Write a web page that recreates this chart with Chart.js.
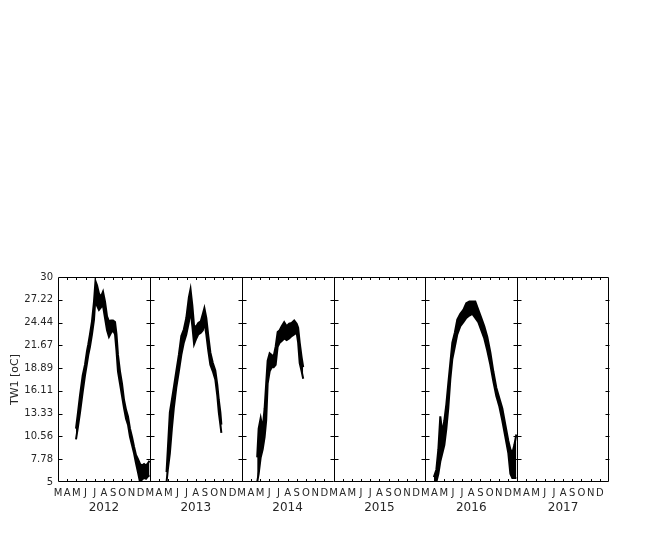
<!DOCTYPE html>
<html>
<head>
<meta charset="utf-8">
<script src="https://cdn.jsdelivr.net/npm/chart.js@4/dist/chart.umd.min.js"></script>
<style>
  html, body { margin: 0; padding: 0; background: #fff; }
  canvas { display: block; }
</style>
</head>
<body>
<canvas id="grafico" width="652" height="540"></canvas>
<script>
// ==========================
// DADOS
// ==========================
const anos = ["2012", "2013", "2014", "2015", "2016", "2017"];
const meses = ["M", "A", "M", "J", "J", "A", "S", "O", "N", "D"];
const yTicks = [5, 7.78, 10.56, 13.33, 16.11, 18.89, 21.67, 24.44, 27.22, 30];

// tempo em meses desde 1 de marco de cada ano
const t2012 = [1.96, 2.18, 2.40, 2.69, 2.94, 3.16, 3.30, 3.48, 3.70, 3.92, 4.08, 4.25, 4.46, 4.68, 4.90, 5.12, 5.34, 5.55, 5.77, 5.99, 6.21, 6.37, 6.53, 6.75, 6.97, 7.19, 7.41, 7.62, 7.84, 8.06, 8.28, 8.49, 8.71, 8.93, 9.15, 9.37, 9.58, 9.80, 9.96];
const hi2012 = [11.5, 13.5, 15.6, 18.0, 19.3, 21.0, 21.8, 23.0, 24.6, 27.0, 29.5, 29.0, 28.0, 27.6, 28.2, 27.0, 25.2, 24.6, 24.7, 24.7, 24.5, 23.0, 20.5, 18.5, 17.0, 15.0, 13.8, 13.0, 11.5, 10.5, 9.3, 8.3, 7.8, 7.2, 7.0, 7.2, 7.0, 7.3, 7.6];
const lo2012 = [10.2, 11.8, 13.5, 16.0, 18.0, 19.5, 20.5, 21.5, 23.0, 24.8, 27.5, 26.5, 26.0, 26.3, 26.5, 25.0, 23.5, 22.7, 23.2, 23.5, 23.0, 21.0, 18.5, 17.0, 15.5, 14.0, 12.7, 12.0, 10.5, 9.5, 8.5, 7.3, 6.2, 5.0, 5.3, 5.5, 5.4, 5.7, 5.8];

const t2013 = [1.82, 1.96, 2.18, 2.40, 2.61, 2.88, 3.16, 3.43, 3.70, 3.97, 4.25, 4.43, 4.63, 4.82, 5.06, 5.28, 5.55, 5.77, 5.94, 6.15, 6.37, 6.59, 6.86, 7.13, 7.35, 7.51, 7.68, 7.79];
const hi2013 = [6.2, 9.0, 13.5, 15.0, 16.5, 18.5, 20.5, 22.8, 23.6, 25.0, 27.5, 28.5, 26.5, 24.0, 24.0, 24.4, 24.6, 25.5, 26.2, 25.0, 22.8, 20.8, 19.5, 18.6, 16.8, 15.0, 13.5, 12.0];
const lo2013 = [5.0, 6.5, 8.5, 11.5, 14.0, 16.5, 18.5, 20.5, 22.0, 23.0, 24.5, 26.0, 24.0, 21.8, 22.5, 23.0, 23.2, 23.5, 24.5, 23.0, 21.0, 19.3, 18.5, 17.5, 15.5, 13.5, 12.0, 11.0];

const t2014 = [1.69, 1.85, 2.07, 2.29, 2.50, 2.67, 2.83, 3.05, 3.27, 3.48, 3.70, 3.92, 4.14, 4.36, 4.63, 4.90, 5.17, 5.44, 5.72, 5.99, 6.15, 6.32, 6.53, 6.70];
const hi2014 = [8.0, 11.5, 12.8, 11.5, 14.0, 17.0, 19.8, 20.7, 20.5, 20.3, 21.5, 23.3, 23.5, 24.0, 24.5, 24.0, 24.3, 24.4, 24.7, 24.3, 23.8, 22.0, 20.2, 19.0];
const lo2014 = [5.0, 6.0, 8.0, 9.0, 10.5, 12.5, 17.0, 18.5, 19.0, 19.0, 19.3, 21.5, 22.0, 22.2, 22.5, 22.3, 22.5, 22.8, 23.0, 23.2, 22.0, 19.5, 18.5, 17.6];

const t2016 = [0.93, 1.20, 1.42, 1.63, 1.85, 2.07, 2.29, 2.50, 2.72, 2.94, 3.21, 3.48, 3.81, 4.14, 4.46, 4.79, 5.12, 5.44, 5.77, 6.10, 6.42, 6.75, 7.08, 7.40, 7.73, 8.06, 8.38, 8.71, 9.04, 9.26, 9.47, 9.69, 9.91];
const hi2016 = [5.6, 6.5, 9.0, 13.0, 11.0, 12.5, 14.5, 17.0, 19.5, 22.0, 23.2, 24.8, 25.5, 26.0, 26.8, 27.0, 27.0, 27.0, 26.0, 25.0, 24.0, 22.7, 20.8, 18.5, 16.5, 15.2, 14.0, 12.0, 10.0, 9.0, 8.5, 9.5, 10.8];
const lo2016 = [5.0, 5.0, 6.0, 7.5, 8.5, 9.5, 11.5, 14.0, 17.5, 20.0, 21.5, 23.0, 24.0, 24.5, 25.0, 25.3, 25.5, 25.0, 24.5, 23.5, 22.5, 21.0, 19.3, 17.3, 15.5, 14.2, 12.5, 10.5, 8.5, 6.0, 5.5, 5.5, 5.5];

const series = [
    { ano: 0, t: t2012, hi: hi2012, lo: lo2012 },
    { ano: 1, t: t2013, hi: hi2013, lo: lo2013 },
    { ano: 2, t: t2014, hi: hi2014, lo: lo2014 },
    { ano: 4, t: t2016, hi: hi2016, lo: lo2016 }
];

const COR_TEXTO = "#262626";
const FONTE = "'DejaVu Sans', sans-serif";

function pontos(s, vals) {
    return s.t.map((t, i) => ({ x: s.ano * 10 + t, y: vals[i] }));
}

const datasets = [];
series.forEach(s => {
    datasets.push({
        data: pontos(s, s.hi),
        showLine: true,
        pointRadius: 0,
        borderColor: "#000",
        backgroundColor: "#000",
        borderWidth: 2,
        fill: false
    });
    datasets.push({
        data: pontos(s, s.lo),
        showLine: true,
        pointRadius: 0,
        borderColor: "#000",
        backgroundColor: "#000",
        borderWidth: 2,
        fill: "-1"
    });
});

// ==========================
// MOLDURAS E TICKS
// ==========================
const molduras = {
    id: "molduras",
    afterDraw(chart) {
        const ctx = chart.ctx;
        const x = chart.scales.x;
        const y = chart.scales.y;
        const a = chart.chartArea;
        ctx.save();
        ctx.strokeStyle = "#000";
        ctx.lineWidth = 1;
        ctx.beginPath();
        ctx.rect(a.left + 0.5, a.top + 0.5, a.right - a.left - 1, a.bottom - a.top - 1);
        for (let p = 1; p < anos.length; p++) {
            const px = Math.round(x.getPixelForValue(p * 10)) + 0.5;
            ctx.moveTo(px, a.top);
            ctx.lineTo(px, a.bottom);
        }
        // ticks x
        for (let v = 1; v < anos.length * 10; v++) {
            if (v % 10 === 0) continue;
            const px = Math.round(x.getPixelForValue(v)) + 0.5;
            ctx.moveTo(px, a.top);
            ctx.lineTo(px, a.top + 3);
            ctx.moveTo(px, a.bottom);
            ctx.lineTo(px, a.bottom - 3);
        }
        // ticks y, dos dois lados de cada painel
        for (let p = 0; p < anos.length; p++) {
            const l = Math.round(x.getPixelForValue(p * 10)) + 0.5;
            const r = Math.round(x.getPixelForValue(p * 10 + 10)) + 0.5;
            yTicks.slice(1, -1).forEach(v => {
                const py = Math.round(y.getPixelForValue(v)) + 0.5;
                ctx.moveTo(l, py);
                ctx.lineTo(l + 4, py);
                ctx.moveTo(r, py);
                ctx.lineTo(r - 4, py);
            });
        }
        ctx.stroke();

        // anos
        ctx.fillStyle = COR_TEXTO;
        ctx.font = "12px " + FONTE;
        ctx.textAlign = "center";
        ctx.textBaseline = "middle";
        anos.forEach((ano, p) => {
            ctx.fillText(ano, x.getPixelForValue(p * 10 + 5), 508);
        });
        ctx.restore();
    }
};

new Chart(document.getElementById("grafico"), {
    type: "scatter",
    data: { datasets },
    options: {
        responsive: false,
        animation: false,
        layout: { padding: { top: 277, right: 43, left: 0, bottom: 0 } },
        plugins: {
            legend: { display: false },
            tooltip: { enabled: false }
        },
        scales: {
            x: {
                type: "linear",
                min: 0,
                max: anos.length * 10,
                afterFit: s => { s.height = 58; },
                afterBuildTicks: s => {
                    const t = [];
                    for (let v = 0; v < anos.length * 10; v++) t.push({ value: v });
                    s.ticks = t;
                },
                grid: { display: false, drawTicks: false },
                border: { display: false },
                ticks: {
                    autoSkip: false,
                    maxRotation: 0,
                    padding: 5,
                    color: COR_TEXTO,
                    font: { family: FONTE, size: 10 },
                    callback: v => meses[v % 10]
                }
            },
            y: {
                min: 5,
                max: 30,
                afterFit: s => { s.width = 58; },
                afterBuildTicks: s => {
                    s.ticks = yTicks.map(v => ({ value: v }));
                },
                grid: { display: false, drawTicks: false },
                border: { display: false },
                ticks: {
                    padding: 5,
                    color: COR_TEXTO,
                    font: { family: FONTE, size: 10 },
                    callback: v => String(v)
                },
                title: {
                    display: true,
                    text: "TW1 [oC]",
                    color: COR_TEXTO,
                    font: { family: FONTE, size: 11 },
                    padding: { top: 9, bottom: 0 }
                }
            }
        }
    },
    plugins: [molduras]
});
</script>
</body>
</html>
